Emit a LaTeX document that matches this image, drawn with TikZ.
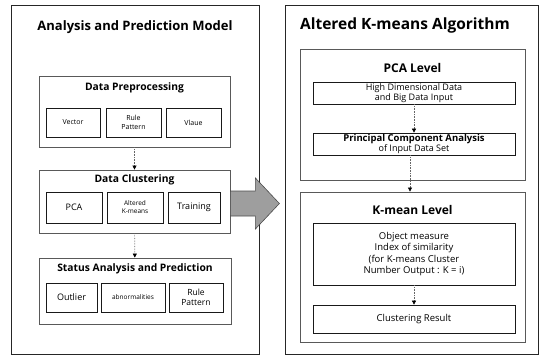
\documentclass[tikz,border=0pt]{standalone}
\usepackage{fontspec}
\setmainfont{Open Sans}
\usetikzlibrary{arrows.meta, positioning}

\begin{document}
\begin{tikzpicture}[x=1pt, y=-1pt,
    outer/.style={draw=black!85, line width=1pt, minimum width=#1},
    group/.style={draw=black!65, line width=0.8pt},
    box/.style={draw=black!90, line width=0.7pt, align=center, inner sep=1pt},
    head/.style={font=\bfseries\fontsize{10.3}{12}\selectfont},
    arr/.style={draw=black!60, densely dotted, line width=0.6pt,
        -{Triangle[length=4pt, width=4pt, black]}},
    bigarr/.style={draw=black!70, line width=0.6pt, fill=black!38}]
\useasboundingbox (0,0) rectangle (541,357);

% two panels
\node[outer=248pt, minimum height=349pt] (left) at (135,179.5) {};
\node[outer=253pt, minimum height=349pt] (right) at (411.5,179.5) {};
\node[font=\bfseries\fontsize{13}{16}\selectfont] (lt) at (135,27) {Analysis and Prediction Model};
\node[font=\bfseries\fontsize{15.5}{18}\selectfont] (rt) at (405,25) {Altered K-means Algorithm};

% left panel: three stages
\node[group, minimum width=191pt, minimum height=71pt] (prep) at (134.5,111.5) {};
\node[group, minimum width=191pt, minimum height=63pt] (clus) at (134.5,201.5) {};
\node[group, minimum width=192pt, minimum height=66pt] (stat) at (135,291) {};
\node[head] at (134.5,88) {Data Preprocessing};
\node[head] at (134.5,180) {Data Clustering};
\node[head] at (135,269) {Status Analysis and Prediction};

\node[box, minimum width=54pt, minimum height=29pt, font=\fontsize{7}{8}\selectfont] (vec) at (73,122.5) {Vector};
\node[box, minimum width=55pt, minimum height=29pt, font=\fontsize{7}{8.5}\selectfont] (rp1) at (133.5,122.5) {Rule\\Pattern};
\node[box, minimum width=55pt, minimum height=29pt, font=\fontsize{7}{8}\selectfont] (val) at (193.5,122.5) {Vlaue};

\node[box, minimum width=56pt, minimum height=31pt, font=\fontsize{9}{10}\selectfont] (pca) at (74,207.5) {PCA};
\node[box, minimum width=56pt, minimum height=31pt, font=\fontsize{6.5}{8}\selectfont] (akm) at (135,207.5) {Altered\\K-means};
\node[box, minimum width=52pt, minimum height=31pt, font=\fontsize{9}{10}\selectfont] (trn) at (194,207.5) {Training};

\node[box, minimum width=51pt, minimum height=29pt, font=\fontsize{9}{10}\selectfont] (out) at (71.5,297.5) {Outlier};
\node[box, minimum width=64pt, minimum height=29pt, font=\fontsize{6.5}{8}\selectfont] (abn) at (133,297.5) {abnormalities};
\node[box, minimum width=54pt, minimum height=29pt, font=\fontsize{8.5}{10.5}\selectfont] (rp2) at (196,297.5) {Rule\\Pattern};

\draw[arr] (prep) -- (clus);
\draw[arr] (clus) -- (stat);

% right panel: two levels
\node[group, minimum width=225pt, minimum height=131pt] (pcal) at (412.5,114.5) {};
\node[group, minimum width=225pt, minimum height=150pt] (kml) at (412.5,267) {};
\node[font=\bfseries\fontsize{12}{14}\selectfont] at (412.5,68) {PCA Level};
\node[font=\bfseries\fontsize{12}{14}\selectfont] at (412.5,210) {K-mean Level};

\node[box, minimum width=202pt, minimum height=22pt, font=\fontsize{9}{10.5}\selectfont] (hdd) at (414,93) {High Dimensional Data\\and Big Data Input};
\node[box, minimum width=202pt, minimum height=22pt, font=\fontsize{9}{10.5}\selectfont] (pcb) at (414,144) {\textbf{\fontsize{9.5}{11}\selectfont Principal Component Analysis}\\of Input Data Set};
\node[box, minimum width=202pt, minimum height=62pt, font=\fontsize{9.5}{11.5}\selectfont] (obj) at (414,254) {Object measure\\Index of similarity\\(for K-means Cluster\\Number Output : K = i)};
\node[box, minimum width=202pt, minimum height=28pt, font=\fontsize{9.5}{11}\selectfont] (res) at (414,319) {Clustering Result};

\draw[arr] (hdd) -- (pcb);
\draw[arr] (pcb.south -| 410,0) -- (kml.north -| 410,0);
\draw[arr] (obj) -- (res);

% hand-over arrow between panels
\draw[bigarr] ([yshift=10.5pt]clus.east) -- ++(25,0) -- ++(0,-13) -- ++(24,25.5)
    -- ++(-24,25.5) -- ++(0,-13) -- ++(-25,0) -- cycle;
\end{tikzpicture}
\end{document}
